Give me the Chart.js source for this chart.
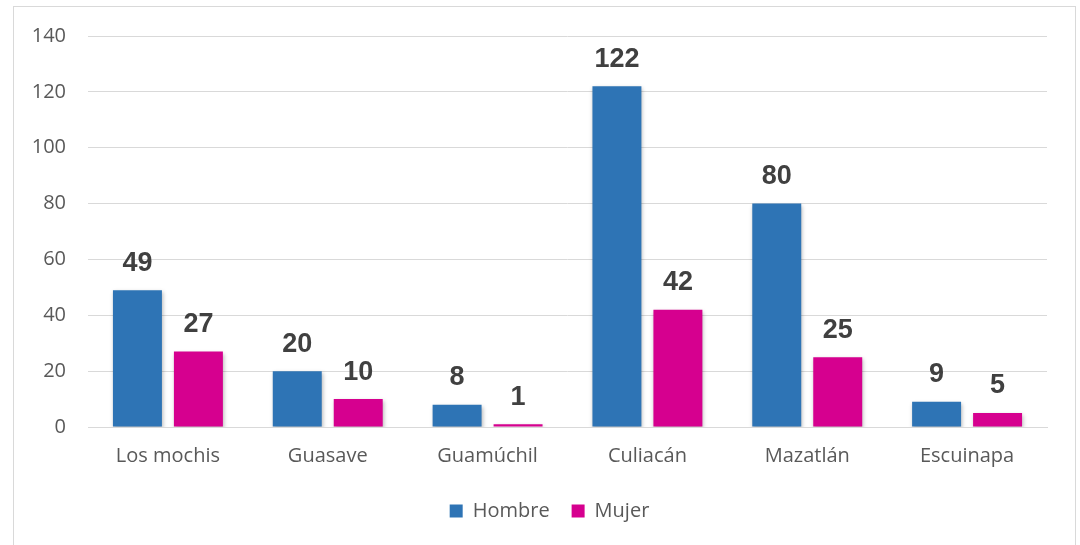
<!DOCTYPE html>
<html>
<head>
<meta charset="utf-8">
<script src="https://cdn.jsdelivr.net/npm/chart.js@4.4.1/dist/chart.umd.min.js"></script>
<style>
  html, body { margin: 0; padding: 0; background: #fff; }
  #wrap { position: relative; width: 1080px; height: 545px; overflow: hidden; }
  #c { position: absolute; left: 0; top: 0; }
  #frame { position: absolute; left: 13px; top: 6px; width: 1061px; height: 560px; border: 1px solid #d9d9d9; pointer-events: none; }
</style>
</head>
<body>
<div id="wrap">
  <canvas id="c" width="1080" height="545"></canvas>
  <div id="frame"></div>
</div>
<script>
const categories = ['Los mochis', 'Guasave', 'Guamúchil', 'Culiacán', 'Mazatlán', 'Escuinapa'];
const hombre = [49, 20, 8, 122, 80, 9];
const mujer = [27, 10, 1, 42, 25, 5];
const seriesNames = ['Hombre', 'Mujer'];
const yTicks = [0, 20, 40, 60, 80, 100, 120, 140];

const FONT = '"Open Sans", sans-serif';
const LABEL_FONT = '"Liberation Sans", Arial, sans-serif';

const shadowPlugin = {
  id: 'barShadow',
  beforeDatasetsDraw(chart) {
    const ctx = chart.ctx;
    ctx.save();
    ctx.shadowColor = 'rgba(0,0,0,0.28)';
    ctx.shadowBlur = 4;
    ctx.shadowOffsetX = 1;
    ctx.shadowOffsetY = 2;
  },
  afterDatasetsDraw(chart) {
    chart.ctx.restore();
  }
};

const legendShift = {
  id: 'legendShift',
  afterLayout(chart) {
    const lg = chart.legend;
    if (lg) { lg.left += 26; lg.right += 26; }
  }
};

const labelPlugin = {
  id: 'valueLabels',
  afterDraw(chart) {
    const ctx = chart.ctx;
    ctx.save();
    ctx.font = 'bold 27px ' + LABEL_FONT;
    ctx.fillStyle = '#404040';
    ctx.textAlign = 'center';
    ctx.textBaseline = 'middle';
    chart.data.datasets.forEach((ds, i) => {
      const meta = chart.getDatasetMeta(i);
      meta.data.forEach((bar, j) => {
        ctx.fillText(String(ds.data[j]), bar.x, bar.y - 27);
      });
    });
    ctx.restore();
  }
};

new Chart(document.getElementById('c'), {
  type: 'bar',
  data: {
    labels: categories,
    datasets: [
      { label: seriesNames[0], data: hombre, backgroundColor: '#2E74B5' },
      { label: seriesNames[1], data: mujer, backgroundColor: '#D6008F' }
    ]
  },
  options: {
    responsive: false,
    animation: false,
    devicePixelRatio: 1,
    layout: { padding: { left: 0, right: 33, top: 36, bottom: 14 } },
    datasets: { bar: { categoryPercentage: 0.763, barPercentage: 0.803 } },
    scales: {
      x: {
        grid: { display: false, drawTicks: false },
        border: { display: true, color: '#d9d9d9', width: 1 },
        ticks: { color: '#595959', font: { family: FONT, size: 20 }, padding: 17 },
        afterFit(scale) { scale.height = 52; }
      },
      y: {
        min: 0,
        max: 140,
        afterBuildTicks(scale) { scale.ticks = yTicks.map(v => ({ value: v })); },
        grid: { color: '#d9d9d9', drawTicks: false },
        border: { display: false },
        ticks: { color: '#595959', font: { family: FONT, size: 20 }, padding: 22 },
        afterFit(scale) { scale.width = 88; }
      }
    },
    plugins: {
      legend: {
        position: 'bottom',
        labels: {
          color: '#595959',
          font: { family: FONT, size: 20 },
          boxWidth: 13,
          boxHeight: 13,
          padding: 22
        }
      },
      tooltip: { enabled: false }
    }
  },
  plugins: [shadowPlugin, legendShift, labelPlugin]
});
</script>
</body>
</html>
